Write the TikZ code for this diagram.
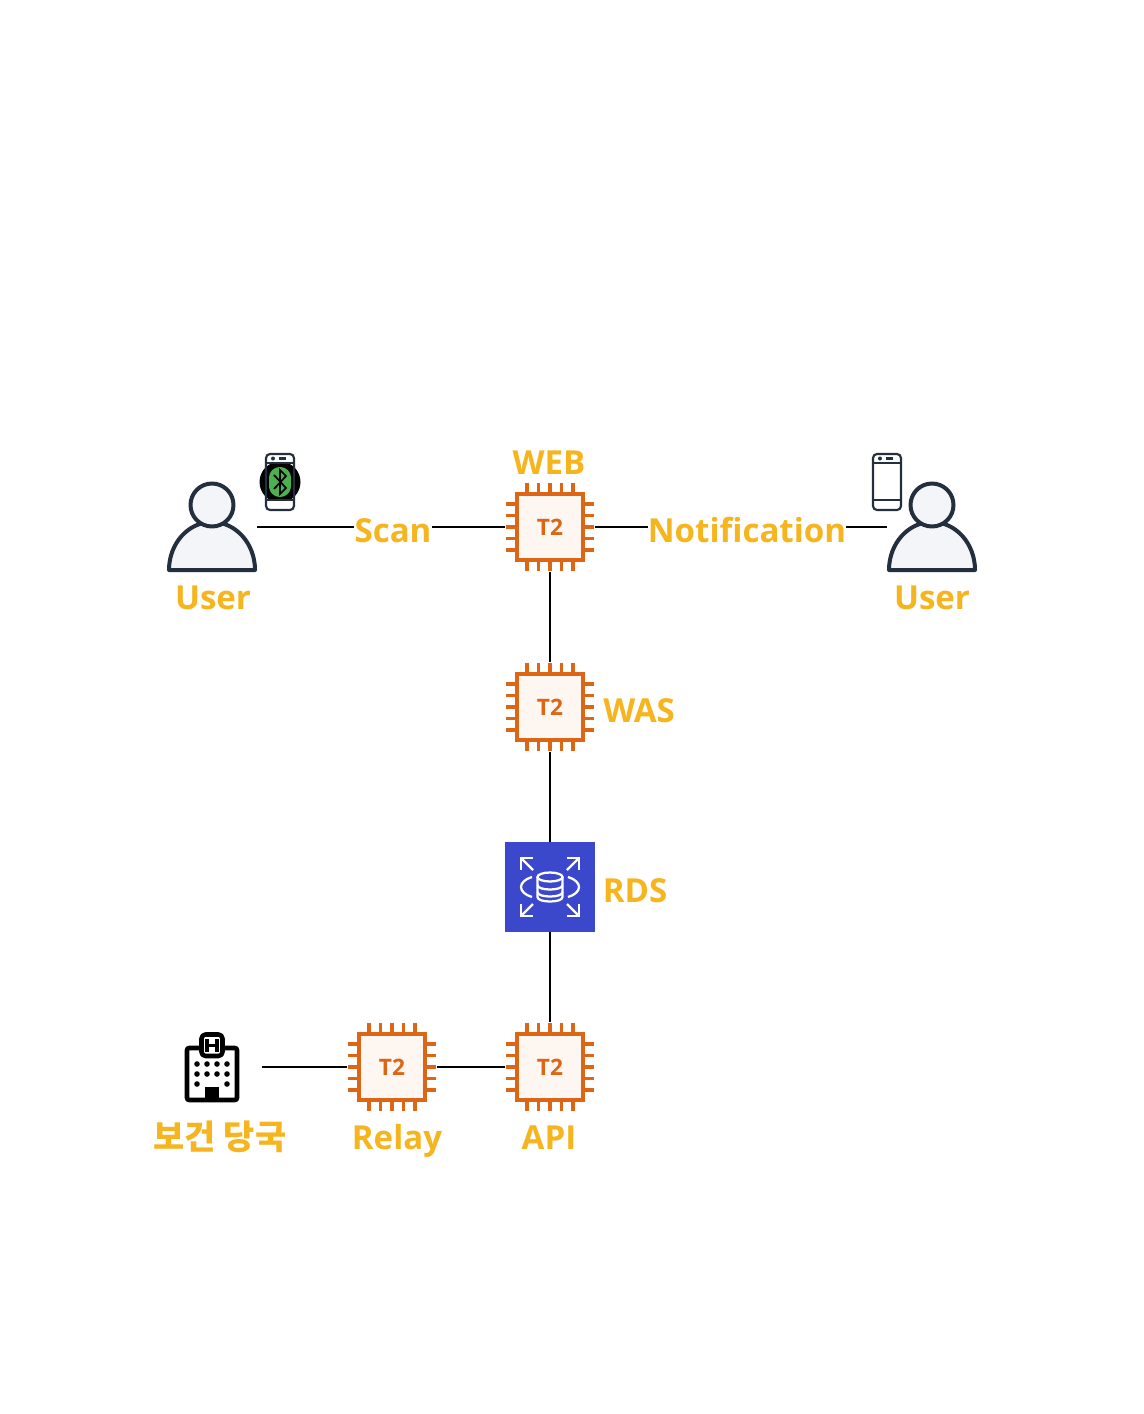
\documentclass[tikz,border=0pt]{standalone}
\usepackage{fontspec}
\setmainfont{Open Sans}
\newfontfamily\krfont{Noto Sans CJK KR}
\definecolor{lab}{HTML}{F6B51E}
\definecolor{chipc}{HTML}{DC6616}
\definecolor{chipf}{HTML}{FDF6F1}
\definecolor{ink}{HTML}{232F3E}
\definecolor{skin}{HTML}{F3F5F8}
\definecolor{rdsc}{HTML}{3B48CC}
\definecolor{btg}{HTML}{4CAF50}
\tikzset{
  lbl/.style={text=lab,font=\fontsize{24.8pt}{28pt}\selectfont\bfseries,inner sep=0pt},
  conn/.style={draw=black,line width=1.5pt},
  box/.style={minimum size=67.5pt,inner sep=0pt,outer sep=0pt},
  chipcore/.style={draw=chipc,fill=chipf,line width=3pt,minimum size=50pt,inner sep=0pt,text=chipc,font=\fontsize{17pt}{20pt}\selectfont\bfseries},
  pin/.style={draw=chipc,line width=2.6pt},
  person/.style={draw=ink,fill=skin,line width=3pt,line join=round},
  phone/.style={draw=ink,line width=1.6pt},
  rdsline/.style={draw=white,line width=1.7pt},
  bld/.style={draw=black,line width=3.4pt,line join=round},
}
\newcommand{\chipat}[3]{%
  \node[box] (#1) at (#2,#3) {};
  \begin{scope}[shift={(#2,#3)}]
    \foreach \d in {-23,-11.5,0,11.5,23} {
      \draw[pin] (\d,-44) -- (\d,-33);
      \draw[pin] (\d,33) -- (\d,44);
      \draw[pin] (-44,\d) -- (-33,\d);
      \draw[pin] (33,\d) -- (44,\d);
    }
  \end{scope}
  \node[chipcore] (#1core) at (#2,#3) {\raisebox{-6.7pt}[0pt][0pt]{T2}};
}
\newcommand{\personat}[3]{%
  \node[box] (#1) at (#2,#3) {};
  \begin{scope}[shift={(#2,#3)}]
    \draw[person] (-43,43) .. controls (-43,16.5) and (-23.8,-5) .. (0,-5)
       .. controls (23.8,-5) and (43,16.5) .. (43,43) -- cycle;
    \draw[person] (0,-22) circle[radius=21.5];
  \end{scope}
}
\newcommand{\phoneat}[2]{%
  \begin{scope}[shift={(#1,#2)}]
    \draw[phone,rounded corners=3pt] (-14,-28) rectangle (14,28);
    \draw[phone] (-14,-19) -- (14,-19);
    \draw[phone] (-14,18) -- (14,18);
    \fill[ink] (-7,-23.5) circle[radius=2];
    \draw[phone] (-1,-23.5) -- (6,-23.5);
  \end{scope}
}
\begin{document}
\begin{tikzpicture}[x=0.75pt,y=-0.75pt]
\useasboundingbox[fill=white] (0,0) rectangle (1144,1414);

% labels on the first row (needed by the connectors)
\node[lbl,anchor=base] (scan) at (393,542) {Scan};
\node[lbl,anchor=base] (notif) at (747,542) {Notification};

% nodes
\node[box] (user1) at (212,527) {};
\node[box] (user2) at (932,527) {};
\node[box] (web) at (550,527) {};
\node[box] (was) at (550,707) {};
\node[box] (api) at (550,1067) {};
\node[box] (relay) at (392,1067) {};
\node[box,minimum size=75pt] (hosp) at (212,1067) {};
\node[box,fill=rdsc] (rds) at (550,887) {};

% connectors
\draw[conn] (user1.east) -- (scan.west|-user1.east);
\draw[conn] (scan.east|-web.west) -- (web.west);
\draw[conn] (web.east) -- (notif.west|-web.east);
\draw[conn] (notif.east|-user2.west) -- (user2.west);
\draw[conn] (web.south) -- (was.north);
\draw[conn] (was.south) -- (rds.north);
\draw[conn] (rds.south) -- (api.north);
\draw[conn] (api.west) -- (relay.east);
\draw[conn] (relay.west) -- (hosp.east);

% chips
\chipat{webc}{550}{527}
\chipat{wasc}{550}{707}
\chipat{apic}{550}{1067}
\chipat{relayc}{392}{1067}

% users
\personat{userfig1}{212}{527}
\personat{userfig2}{932}{527}

% bluetooth phone
\fill[black] (280,482) circle[radius=20.5];
\fill[white] (266,455) rectangle (294,464);
\fill[white] (266,499) rectangle (294,510);
\phoneat{280}{482}
\fill[btg,rounded corners=8pt] (269,467) rectangle (291,497);
\draw[black,line width=1.3pt,line join=miter] (274,475) -- (286,488) -- (280,494) -- (280,470) -- (286,476) -- (274,489);

% plain phone
\phoneat{887}{482}

% RDS icon
\begin{scope}[shift={(550,887)}]
  \draw[rdsline] (-29,-17) -- (-29,-29) -- (-17,-29);
  \draw[rdsline] (-29,-29) -- (-17,-17);
  \draw[rdsline] (29,-17) -- (29,-29) -- (17,-29);
  \draw[rdsline] (29,-29) -- (17,-17);
  \draw[rdsline] (-29,17) -- (-29,29) -- (-17,29);
  \draw[rdsline] (-29,29) -- (-17,17);
  \draw[rdsline] (29,17) -- (29,29) -- (17,29);
  \draw[rdsline] (29,29) -- (17,17);
  \draw[rdsline] (-18,-10) .. controls (-25,-8) and (-29,-4) .. (-29,0) .. controls (-29,4) and (-25,8) .. (-18,10);
  \draw[rdsline] (18,-10) .. controls (25,-8) and (29,-4) .. (29,0) .. controls (29,4) and (25,8) .. (18,10);
  \draw[rdsline] (0,-10) ellipse[x radius=12.5,y radius=4.5];
  \draw[rdsline] (-12.5,-10) -- (-12.5,10) .. controls (-12.5,16) and (12.5,16) .. (12.5,10) -- (12.5,-10);
  \draw[rdsline] (-12.5,-2) .. controls (-12.5,4) and (12.5,4) .. (12.5,-2);
  \draw[rdsline] (-12.5,5) .. controls (-12.5,11) and (12.5,11) .. (12.5,5);
\end{scope}

% hospital
\draw[bld,fill=white,rounded corners=1.5pt] (187,1048) rectangle (237,1100);
\draw[bld,fill=white,rounded corners=3pt] (201.5,1034.5) rectangle (222.5,1056);
\draw[black,line width=2.6pt] (207,1039) -- (207,1052) (217,1039) -- (217,1052) (207,1045.5) -- (217,1045.5);
\foreach \x in {197,207,217,227} {
  \fill (\x,1064) circle[radius=2.8];
  \fill (\x,1074) circle[radius=2.8];
}
\fill (197,1084) circle[radius=2.8];
\fill (227,1084) circle[radius=2.8];
\fill (205,1087) rectangle (219,1101);

% labels
\node[lbl,anchor=base] (luser1) at (213,609) {User};
\node[lbl,anchor=base] (luser2) at (932,609) {User};
\node[lbl,anchor=base] (lweb) at (549,474) {WEB};
\node[lbl,anchor=base west] (lwas) at (603,722) {WAS};
\node[lbl,anchor=base west] (lrds) at (602.5,902) {RDS};
\node[lbl,anchor=base] (lrelay) at (397,1149) {Relay};
\node[lbl,anchor=base] (lapi) at (549,1149) {API};
\node[lbl,anchor=base,font=\fontsize{25.4pt}{28pt}\selectfont\krfont\bfseries] (lhosp) at (220,1149) {보건 당국};
\end{tikzpicture}
\end{document}
